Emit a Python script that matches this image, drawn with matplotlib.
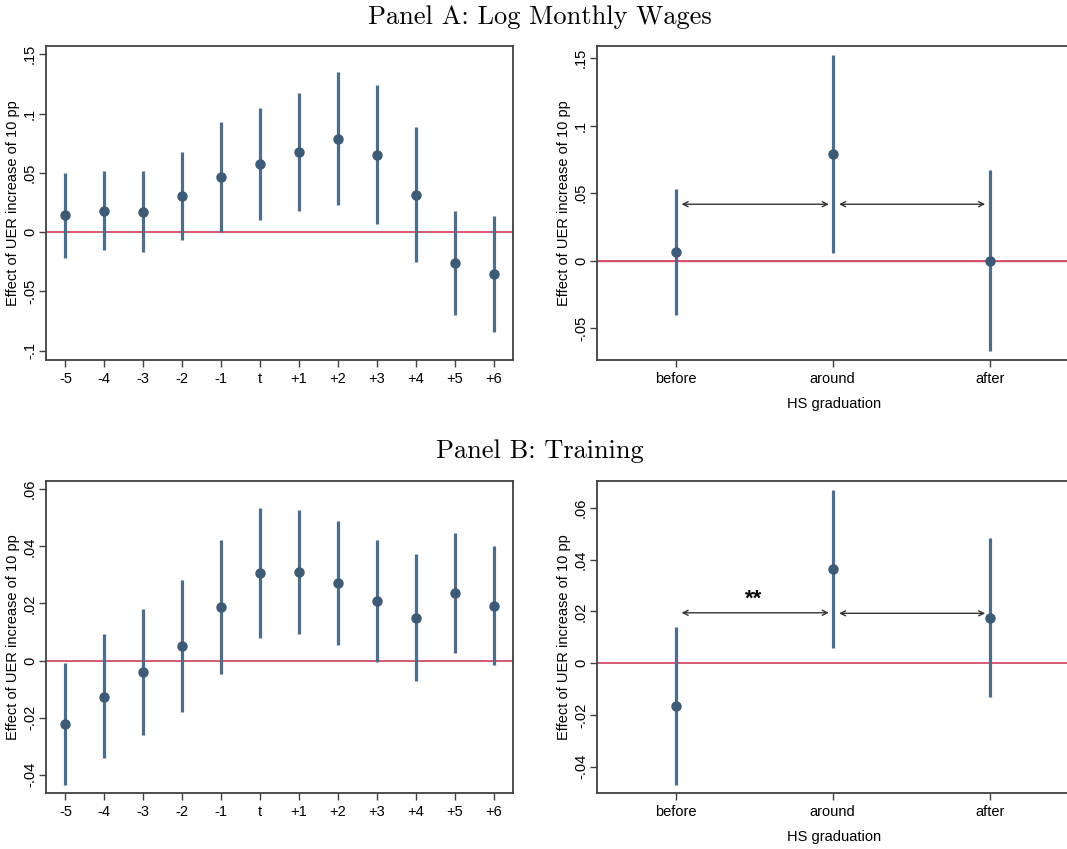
import numpy as np
import matplotlib
matplotlib.use("Agg")
import matplotlib.pyplot as plt

# event-time labels
periods = ['-5', '-4', '-3', '-2', '-1', 't', '+1', '+2', '+3', '+4', '+5', '+6']
groups = ['before', 'around', 'after']

# Panel A: log monthly wages
wage_coef = [0.0141, 0.018, 0.0169, 0.0304, 0.0465, 0.0575, 0.0677, 0.0787, 0.0651, 0.0316, -0.0262, -0.0355]
wage_hi = [0.0499, 0.0513, 0.0513, 0.0677, 0.093, 0.1043, 0.1176, 0.1348, 0.1238, 0.0888, 0.0175, 0.0135]
wage_lo = [-0.022, -0.0149, -0.0172, -0.007, 0.0, 0.0104, 0.0178, 0.0226, 0.0065, -0.0257, -0.0702, -0.0846]
wage_grp_coef = [0.0064, 0.0791, 0.0]
wage_grp_hi = [0.0529, 0.1525, 0.067]
wage_grp_lo = [-0.0403, 0.0059, -0.067]

# Panel B: training
train_coef = [-0.0221, -0.0126, -0.004, 0.005, 0.0189, 0.0306, 0.031, 0.0271, 0.0209, 0.015, 0.0238, 0.0192]
train_hi = [-0.0007, 0.0093, 0.0182, 0.0281, 0.0424, 0.0534, 0.0529, 0.0488, 0.0422, 0.0372, 0.0446, 0.0401]
train_lo = [-0.0435, -0.0343, -0.026, -0.0181, -0.0047, 0.0078, 0.0093, 0.0054, -0.0006, -0.0073, 0.0028, -0.0015]
train_grp_coef = [-0.0164, 0.0366, 0.0175]
train_grp_hi = [0.0141, 0.0671, 0.0482]
train_grp_lo = [-0.0469, 0.006, -0.0132]

# y ticks (Stata style labels)
wage_yticks = [-0.1, -0.05, 0, 0.05, 0.1, 0.15]
wage_ylabels = ['-.1', '-.05', '0', '.05', '.1', '.15']
wage_grp_yticks = [-0.05, 0, 0.05, 0.1, 0.15]
wage_grp_ylabels = ['-.05', '0', '.05', '.1', '.15']
train_yticks = [-0.04, -0.02, 0, 0.02, 0.04, 0.06]
train_ylabels = ['-.04', '-.02', '0', '.02', '.04', '.06']

# comparison arrows (x from, x to, y) in group panels
wage_arrows = [(1.038, 1.975, 0.0418), (2.04, 2.97, 0.0418)]
train_arrows = [(1.038, 1.975, 0.0195), (2.04, 2.97, 0.0193)]

navy = '#3d5b75'
barc = '#4d6d88'
redc = '#d44a6a'
framec = '#404040'
W, H = 1067, 849

fig = plt.figure(figsize=(W / 100, H / 100), dpi=100)
plt.rcParams['font.family'] = ['Liberation Sans', 'DejaVu Sans']


def box(l, r, t, b):
    return [l / W, 1 - b / H, (r - l) / W, (b - t) / H]


def style(ax, yt, yl, ylim):
    ax.set_ylim(*ylim)
    ax.set_yticks(yt)
    ax.set_yticklabels(yl, rotation=90, va='center', fontsize=10)
    ax.set_ylabel('Effect of UER increase of 10 pp', fontsize=10.5, labelpad=2)
    for s in ax.spines.values():
        s.set_color(framec)
        s.set_linewidth(1.3)
    ax.tick_params(axis='both', color=framec, length=5, width=1, labelsize=10.5)
    ax.tick_params(axis='y', pad=1.5)
    ax.axhline(0, color=redc, lw=1.3, zorder=1)


def events(ax, coef, lo, hi):
    x = np.arange(len(periods))
    ax.vlines(x, lo, hi, color=barc, lw=2.3, zorder=2)
    ax.plot(x, coef, 'o', color=navy, ms=6.5, zorder=3)
    ax.set_xticks(x)
    ax.set_xticklabels(periods)
    ax.set_xlim(-0.5, len(periods) - 0.5)


def grouped(ax, coef, lo, hi, arrows):
    x = np.arange(1, len(groups) + 1)
    ax.vlines(x, lo, hi, color=barc, lw=2.3, zorder=2)
    ax.plot(x, coef, 'o', color=navy, ms=6.5, zorder=3)
    ax.set_xticks(x)
    ax.set_xticklabels(groups)
    ax.set_xlabel('HS graduation', fontsize=10.5, labelpad=8)
    for x0, x1, yy in arrows:
        ax.annotate('', xy=(x1, yy), xytext=(x0, yy),
                    arrowprops=dict(arrowstyle='<->', color='#333333', lw=1.0,
                                    shrinkA=0, shrinkB=0, mutation_scale=9))


ax1 = fig.add_axes(box(46, 513, 46, 360))
events(ax1, wage_coef, wage_lo, wage_hi)
style(ax1, wage_yticks, wage_ylabels, (-0.108, 0.157))

# right panels run past the figure edge so their right border is hidden
ax2 = fig.add_axes(box(597, 1072, 46, 360))
grouped(ax2, wage_grp_coef, wage_grp_lo, wage_grp_hi, wage_arrows)
style(ax2, wage_grp_yticks, wage_grp_ylabels, (-0.0736, 0.159))
ax2.set_xlim(0.5, 3.5 + 3.5 / 157)
ax2.axhline(0, color=redc, lw=1.0, zorder=1)

ax3 = fig.add_axes(box(46, 513, 481, 793))
events(ax3, train_coef, train_lo, train_hi)
style(ax3, train_yticks, train_ylabels, (-0.0464, 0.0629))

ax4 = fig.add_axes(box(597, 1072, 481, 793))
grouped(ax4, train_grp_coef, train_grp_lo, train_grp_hi, train_arrows)
style(ax4, train_yticks, train_ylabels, (-0.0501, 0.0704))
ax4.set_xlim(0.5, 3.5 + 3.5 / 157)
ax4.text(1.495, 0.0247, '**', ha='center', va='center', fontsize=16, fontweight='bold')

fig.text(540 / W, 1 - 17 / H, 'Panel A: Log Monthly Wages', family='cmr10',
         fontsize=19, ha='center', va='center')
fig.text(540 / W, 1 - 451 / H, 'Panel B: Training', family='cmr10',
         fontsize=19, ha='center', va='center')

fig.savefig('out.png', dpi=100)
